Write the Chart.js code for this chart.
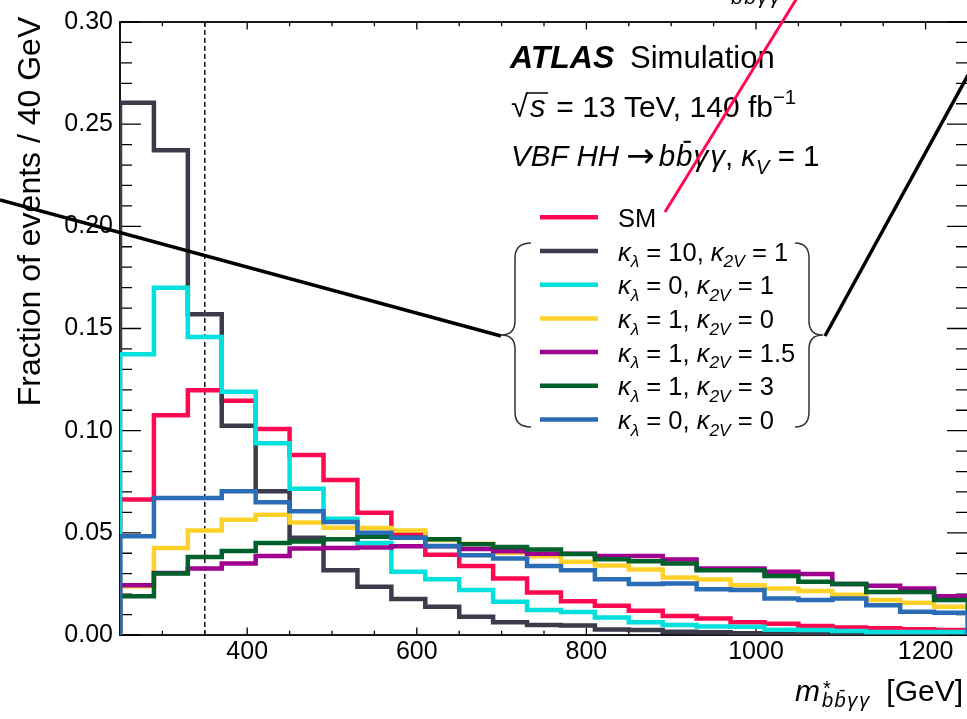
<!DOCTYPE html>
<html>
<head>
<meta charset="utf-8">
<script src="https://cdn.jsdelivr.net/npm/chart.js@4.4.1/dist/chart.umd.min.js"></script>
<style>
  html, body { margin:0; padding:0; background:#fff; overflow:hidden; }
  canvas { display:block; }
</style>
</head>
<body>
<canvas id="c" width="968" height="719"></canvas>
<script>
// binning: 25 bins of 40 GeV from 250 to 1250
const binLo = 250;
const binW = 40;
const xTicks = [400, 600, 800, 1000, 1200];
const yTicks = [0, 0.05, 0.10, 0.15, 0.20, 0.25, 0.30];
const cutAt = 350;

// fraction of events per bin
const sm      = [0.0663, 0.1076, 0.1198, 0.1146, 0.1008, 0.0881, 0.0759, 0.0598, 0.0496, 0.0393, 0.0338, 0.0276, 0.0208, 0.0165, 0.0143, 0.0119, 0.0093, 0.0081, 0.0062, 0.0055, 0.0044, 0.0037, 0.0033, 0.0028, 0.0024];
const kl10    = [0.2605, 0.2372, 0.1570, 0.1024, 0.0704, 0.0476, 0.0317, 0.0236, 0.0176, 0.0138, 0.0089, 0.0063, 0.0049, 0.0046, 0.0027, 0.0024, 0.0016, 0.0013, 0.0009, 0.0006, 0.0004, 0.0003, 0.0002, 0.0002, 0.0001];
const kl0     = [0.1374, 0.1700, 0.1459, 0.1190, 0.0938, 0.0716, 0.0569, 0.0450, 0.0309, 0.0273, 0.0220, 0.0163, 0.0122, 0.0113, 0.0086, 0.0062, 0.0049, 0.0041, 0.0040, 0.0026, 0.0024, 0.0020, 0.0015, 0.0015, 0.0015];
const k2v0    = [0.0239, 0.0426, 0.0512, 0.0564, 0.0589, 0.0550, 0.0525, 0.0524, 0.0512, 0.0465, 0.0447, 0.0403, 0.0385, 0.0358, 0.0340, 0.0320, 0.0281, 0.0272, 0.0244, 0.0228, 0.0215, 0.0197, 0.0171, 0.0158, 0.0138];
const k2v15   = [0.0244, 0.0304, 0.0325, 0.0350, 0.0387, 0.0423, 0.0426, 0.0428, 0.0434, 0.0434, 0.0421, 0.0410, 0.0398, 0.0398, 0.0387, 0.0387, 0.0369, 0.0325, 0.0325, 0.0309, 0.0298, 0.0250, 0.0241, 0.0228, 0.0190];
const k2v3    = [0.0190, 0.0301, 0.0382, 0.0411, 0.0450, 0.0457, 0.0468, 0.0481, 0.0476, 0.0468, 0.0444, 0.0431, 0.0418, 0.0397, 0.0371, 0.0361, 0.0350, 0.0317, 0.0317, 0.0289, 0.0260, 0.0249, 0.0211, 0.0211, 0.0171];
const kl0k2v0 = [0.0483, 0.0670, 0.0670, 0.0704, 0.0650, 0.0606, 0.0553, 0.0501, 0.0476, 0.0436, 0.0390, 0.0374, 0.0338, 0.0317, 0.0273, 0.0250, 0.0252, 0.0224, 0.0220, 0.0179, 0.0171, 0.0179, 0.0146, 0.0114, 0.0109];

const series = [sm, kl10, kl0, k2v0, k2v15, k2v3, kl0k2v0];
const colors = ['#ff0a50', '#3b3b4b', '#00e0dc', '#ffd22a', '#a0008f', '#00602c', '#2a6cb6'];

// legend entries as text pieces (it = italic, sub = subscript)
const legendText = [
  [{t:'SM'}],
  [{t:'κ',it:1},{t:'λ',it:1,sub:1},{t:' = 10, '},{t:'κ',it:1},{t:'2V',it:1,sub:1},{t:' = 1'}],
  [{t:'κ',it:1},{t:'λ',it:1,sub:1},{t:' = 0, '},{t:'κ',it:1},{t:'2V',it:1,sub:1},{t:' = 1'}],
  [{t:'κ',it:1},{t:'λ',it:1,sub:1},{t:' = 1, '},{t:'κ',it:1},{t:'2V',it:1,sub:1},{t:' = 0'}],
  [{t:'κ',it:1},{t:'λ',it:1,sub:1},{t:' = 1, '},{t:'κ',it:1},{t:'2V',it:1,sub:1},{t:' = 1.5'}],
  [{t:'κ',it:1},{t:'λ',it:1,sub:1},{t:' = 1, '},{t:'κ',it:1},{t:'2V',it:1,sub:1},{t:' = 3'}],
  [{t:'κ',it:1},{t:'λ',it:1,sub:1},{t:' = 0, '},{t:'κ',it:1},{t:'2V',it:1,sub:1},{t:' = 0'}]
];
const bbyy = [{t:'b',it:1,dx:1.5},{t:'b',it:1,bar:1,dx:1.5},{t:'γ',it:1,dx:2},{t:'γ',it:1}];

const FONT = '"Liberation Sans", Arial, Helvetica, sans-serif';

function steps(vals){
  const end = binLo + vals.length*binW;
  const pts = [{x:binLo, y:0}];
  vals.forEach((v,i) => pts.push({x:binLo + i*binW, y:v}));
  pts.push({x:end, y:vals[vals.length-1]});
  pts.push({x:end, y:0});
  return pts;
}

// draw a run of text pieces, returns end x
function rich(ctx, x, y, parts, size){
  ctx.textAlign = 'left';
  ctx.textBaseline = 'alphabetic';
  for (const p of parts){
    const s = p.size || ((p.sub || p.sup) ? size*0.68 : size);
    ctx.font = (p.it ? 'italic ' : '') + (p.b ? 'bold ' : '') + s + 'px ' + (p.fam || FONT);
    const dy = (p.sub ? size*0.27 : p.sup ? -size*0.42 : 0) + (p.dy || 0);
    ctx.fillText(p.t, x, y + dy);
    const w = ctx.measureText(p.t).width;
    if (p.bar){
      ctx.save();
      ctx.lineWidth = s*0.07;
      ctx.strokeStyle = ctx.fillStyle;
      ctx.beginPath();
      ctx.moveTo(x + w*0.45, y + dy - s*0.82);
      ctx.lineTo(x + w*0.9, y + dy - s*0.82);
      ctx.stroke();
      ctx.restore();
    }
    x += w + (p.dx || 0);
  }
  return x;
}

const frame = {
  id: 'frame',
  beforeDatasetsDraw(chart){
    const {ctx, chartArea:a, scales:{x, y}} = chart;
    ctx.save();
    ctx.strokeStyle = '#000';
    ctx.lineWidth = 1.8;
    ctx.strokeRect(a.left, a.top, a.right - a.left, a.bottom - a.top);
    ctx.lineWidth = 1.3;
    ctx.beginPath();
    for (let v = binLo; v <= 1250; v += 50){
      const px = x.getPixelForValue(v);
      const len = v % 200 === 0 ? 7.5 : 4.3;
      ctx.moveTo(px, a.bottom); ctx.lineTo(px, a.bottom - len);
      ctx.moveTo(px, a.top); ctx.lineTo(px, a.top + len);
    }
    for (let k = 0; k <= 30; k++){
      const py = y.getPixelForValue(k/100);
      const len = k % 5 === 0 ? 21 : 12;
      ctx.moveTo(a.left, py); ctx.lineTo(a.left + len, py);
      ctx.moveTo(a.right, py); ctx.lineTo(a.right - len, py);
    }
    ctx.stroke();
    // dashed cut line
    const cx = x.getPixelForValue(cutAt);
    ctx.setLineDash([5, 3]);
    ctx.lineWidth = 1.4;
    ctx.beginPath();
    ctx.moveTo(cx, a.top); ctx.lineTo(cx, a.bottom);
    ctx.stroke();
    ctx.restore();
  }
};

const decor = {
  id: 'decor',
  afterDraw(chart){
    const {ctx} = chart;
    ctx.save();
    ctx.fillStyle = '#000';

    // axis titles
    ctx.save();
    ctx.translate(40, 211.5);
    ctx.rotate(-Math.PI/2);
    ctx.font = '32px ' + FONT;
    ctx.textAlign = 'center';
    ctx.textBaseline = 'alphabetic';
    ctx.fillText('Fraction of events / 40 GeV', 0, 0);
    ctx.restore();

    ctx.font = 'italic 30px ' + FONT;
    ctx.fillText('m', 795, 701);
    ctx.font = '20px ' + FONT;
    ctx.fillText('*', 823, 695);
    rich(ctx, 822, 707, bbyy, 20);
    ctx.font = '30px ' + FONT;
    ctx.textAlign = 'right';
    ctx.fillText('[GeV]', 963, 701);

    // label block
    rich(ctx, 510, 68, [{t:'ATLAS', it:1, b:1}], 32);
    rich(ctx, 630, 68, [{t:'Simulation'}], 31);
    const sx = rich(ctx, 511, 117, [{t:'√'}], 31);
    ctx.font = 'italic 31px ' + FONT;
    ctx.fillText('s', sx + 2, 117);
    ctx.lineWidth = 1.5;
    ctx.beginPath();
    ctx.moveTo(sx - 1, 117 - 24); ctx.lineTo(sx + 20, 117 - 24);
    ctx.stroke();
    rich(ctx, sx + 20, 117, [{t:' = 13 TeV, 140 fb'},{t:'−1', sup:1}], 30);
    rich(ctx, 511, 166, [
      {t:'VBF HH', it:1, dx:7},
      {t:'→', fam:'"DejaVu Sans", sans-serif', size:34, dy:1, dx:4},
      {t:'b',it:1,dx:1},{t:'b',it:1,bar:1,dx:1},{t:'γ',it:1,dx:2},{t:'γ',it:1},
      {t:','},{t:' κ',it:1},{t:'V',it:1,sub:1},{t:' = 1'}], 29.5);

    // legend
    legendText.forEach((parts, i) => {
      const yc = 217.3 + i*33.7;
      ctx.strokeStyle = colors[i];
      ctx.lineWidth = 4.5;
      ctx.beginPath();
      ctx.moveTo(540, yc); ctx.lineTo(598, yc);
      ctx.stroke();
      ctx.fillStyle = '#000';
      rich(ctx, 618, yc + 9.5, parts, 25.5);
    });

    // braces around the BSM entries
    ctx.strokeStyle = '#333';
    ctx.lineWidth = 1.5;
    ctx.beginPath();
    ctx.moveTo(531, 243);
    ctx.quadraticCurveTo(515, 243, 515, 258);
    ctx.lineTo(515, 321);
    ctx.quadraticCurveTo(515, 335, 501, 335);
    ctx.quadraticCurveTo(515, 335, 515, 349);
    ctx.lineTo(515, 412);
    ctx.quadraticCurveTo(515, 427, 531, 427);
    ctx.moveTo(795, 243);
    ctx.quadraticCurveTo(809, 243, 809, 258);
    ctx.lineTo(809, 321);
    ctx.quadraticCurveTo(809, 335, 823, 335);
    ctx.quadraticCurveTo(809, 335, 809, 349);
    ctx.lineTo(809, 412);
    ctx.quadraticCurveTo(809, 427, 795, 427);
    ctx.stroke();

    // callout lines from the surrounding figure
    ctx.strokeStyle = '#000';
    ctx.lineWidth = 3.5;
    ctx.beginPath();
    ctx.moveTo(0, 200); ctx.lineTo(501, 336);
    ctx.moveTo(825, 336); ctx.lineTo(968, 75);
    ctx.stroke();
    ctx.strokeStyle = colors[0];
    ctx.lineWidth = 3;
    ctx.beginPath();
    ctx.moveTo(665, 212); ctx.lineTo(797, -2);
    ctx.stroke();
    ctx.fillStyle = '#000';
    rich(ctx, 731, 4, bbyy, 21);
    ctx.restore();
  }
};

new Chart(document.getElementById('c'), {
  type: 'line',
  data: {
    datasets: series.map((vals, i) => ({
      data: steps(vals),
      borderColor: colors[i],
      borderWidth: 4.5,
      stepped: 'before',
      pointRadius: 0,
      fill: false,
      borderCapStyle: 'butt',
      borderJoinStyle: 'miter',
      order: series.length - i
    }))
  },
  options: {
    responsive: false,
    devicePixelRatio: 1,
    animation: false,
    layout: { padding: { top: 19.5, left: 0, right: 0, bottom: 0 } },
    plugins: { legend: { display: false }, tooltip: { enabled: false } },
    scales: {
      x: {
        type: 'linear', min: 250, max: 1250,
        grid: { display: false, drawTicks: false },
        border: { display: false },
        afterBuildTicks: s => { s.ticks = xTicks.map(v => ({value: v})); },
        afterFit: s => { s.height = 84; },
        ticks: { color: '#000', font: { family: FONT, size: 25 }, padding: 2, maxRotation: 0, autoSkip: false, callback: v => String(v) }
      },
      y: {
        type: 'linear', min: 0, max: 0.3,
        grid: { display: false, drawTicks: false },
        border: { display: false },
        afterBuildTicks: s => { s.ticks = yTicks.map(v => ({value: v})); },
        afterFit: s => { s.width = 120; },
        ticks: { color: '#000', font: { family: FONT, size: 25 }, padding: 7, autoSkip: false, callback: v => Number(v).toFixed(2) }
      }
    }
  },
  plugins: [frame, decor]
});
</script>
</body>
</html>
